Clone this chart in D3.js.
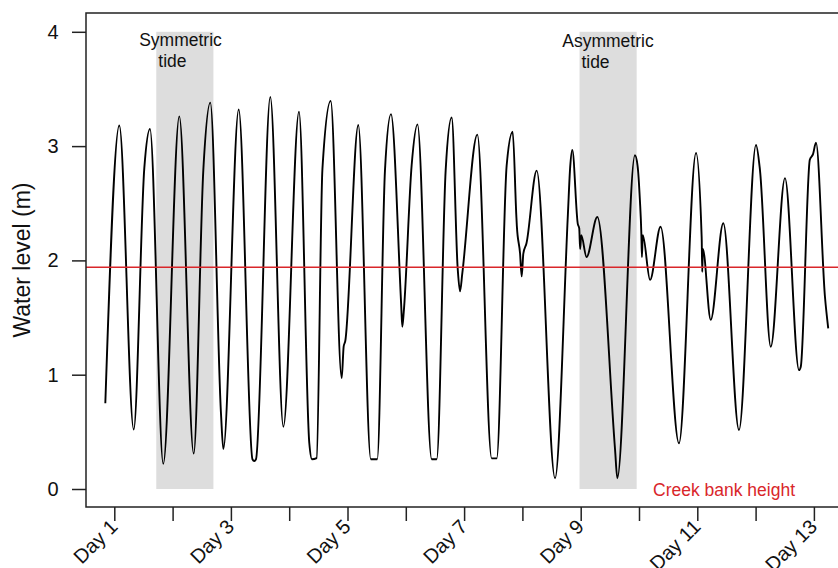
<!DOCTYPE html>
<html>
<head>
<meta charset="utf-8">
<script src="https://cdn.jsdelivr.net/npm/d3@7"></script>
<style>
  html, body { margin: 0; padding: 0; background: #fff; }
  svg { display: block; font-family: "Liberation Sans", Arial, sans-serif; }
</style>
</head>
<body>
<svg id="chart" width="838" height="568"></svg>
<script>
// ---- data ----
const dayTicks = [1,2,3,4,5,6,7,8,9,10,11,12,13];
const levelTicks = [0,1,2,3,4];
const creekBank = 1.94;
const shaded = [ {from: 1.72, to: 2.70, label1: "Symmetric", label2: "tide"},
                 {from: 8.98, to: 9.96, label1: "Asymmetric", label2: "tide"} ];

const day = [
  0.846, 1.086, 1.333, 1.515, 1.612, 1.84, 2.115, 2.362, 2.527, 2.647,
  2.83, 2.87, 3.134, 3.37, 3.40, 3.43, 3.676, 3.90, 4.168, 4.345,
  4.39, 4.47, 4.57, 4.712, 4.90, 4.935, 4.96, 5.185, 5.40, 5.51,
  5.643, 5.746, 5.92, 5.94, 5.965, 6.10, 6.20, 6.444, 6.53, 6.684,
  6.787, 6.89, 6.93, 6.97, 7.227, 7.473, 7.559, 7.73, 7.833, 7.895,
  7.905, 7.96, 7.988, 8.016, 8.07, 8.245, 8.56, 8.78, 8.82, 8.856,
  8.95, 8.975, 8.99, 9.01, 9.10, 9.285, 9.59, 9.628, 9.93, 9.975,
  10.015, 10.04, 10.05, 10.065, 10.19, 10.37, 10.686, 10.978, 11.075, 11.085,
  11.095, 11.23, 11.446, 11.715, 12.007, 12.075, 12.26, 12.504, 12.745, 12.775,
  12.93, 12.985, 13.036, 13.19, 13.246
];
const level = [
  0.75, 3.18, 0.52, 2.81, 3.15, 0.22, 3.26, 0.31, 2.79, 3.38,
  0.66, 0.35, 3.32, 0.26, 0.245, 0.26, 3.43, 0.545, 3.30, 0.40,
  0.26, 0.27, 2.80, 3.395, 0.97, 1.25, 1.29, 3.185, 0.26, 0.26,
  2.79, 3.28, 1.62, 1.42, 1.55, 2.83, 3.19, 0.26, 0.26, 2.79,
  3.25, 1.93, 1.73, 1.89, 3.10, 0.268, 0.268, 2.83, 3.126, 2.40,
  2.30, 2.06, 1.86, 2.06, 2.15, 2.785, 0.094, 2.40, 2.82, 2.966,
  2.32, 2.28, 2.10, 2.22, 2.03, 2.38, 0.34, 0.094, 2.92, 2.83,
  2.53, 2.24, 2.03, 2.22, 1.83, 2.295, 0.40, 2.94, 2.20, 1.90,
  2.10, 1.48, 2.325, 0.516, 3.01, 2.79, 1.245, 2.72, 1.04, 1.07,
  2.88, 2.93, 3.03, 1.68, 1.405
];

// ---- layout ----
const svg = d3.select("#chart");
const W = 838, H = 568;
const plot = {left: 86, top: 13, right: 860, bottom: 507};

svg.append("rect").attr("width", W).attr("height", H).attr("fill", "#fff");

const x = d3.scaleLinear().domain([1, 13]).range([114.3, 813.9]);
const y = d3.scaleLinear().domain([0, 4]).range([489, 31.8]);

svg.append("defs").append("clipPath").attr("id", "clip")
  .append("rect").attr("x", plot.left).attr("y", plot.top)
  .attr("width", plot.right - plot.left).attr("height", plot.bottom - plot.top);

const g = svg.append("g").attr("clip-path", "url(#clip)");

// shaded periods
g.selectAll("rect.shade").data(shaded).join("rect")
  .attr("class", "shade")
  .attr("x", d => x(d.from)).attr("width", d => x(d.to) - x(d.from))
  .attr("y", y(4)).attr("height", y(0) - y(4))
  .attr("fill", "#dddddd");

// water level line
const pts = day.map((d, i) => ({day: d, v: level[i]}));
const line = d3.line().x(d => x(d.day)).y(d => y(d.v)).curve(d3.curveMonotoneX);
g.append("path").datum(pts).attr("d", line)
  .attr("fill", "none").attr("stroke", "#000").attr("stroke-width", 1.9)
  .attr("stroke-linejoin", "round");

// creek bank height
g.append("line")
  .attr("x1", plot.left).attr("x2", plot.right)
  .attr("y1", y(creekBank)).attr("y2", y(creekBank))
  .attr("stroke", "#d9262a").attr("stroke-width", 1.6);

// annotations
const ann = svg.append("g").attr("font-size", 17.5).attr("fill", "#111").attr("text-anchor", "middle");
ann.append("text").attr("x", x(2.135)).attr("y", 46).text(shaded[0].label1);
ann.append("text").attr("x", x(1.998)).attr("y", 67).text(shaded[0].label2);
ann.append("text").attr("x", x(9.468)).attr("y", 47).text(shaded[1].label1);
ann.append("text").attr("x", x(9.254)).attr("y", 68).text(shaded[1].label2);

svg.append("text").attr("x", 653).attr("y", 495.5)
  .attr("font-size", 17.5).attr("fill", "#d9262a").text("Creek bank height");

// box
svg.append("rect")
  .attr("x", plot.left).attr("y", plot.top)
  .attr("width", plot.right - plot.left).attr("height", plot.bottom - plot.top)
  .attr("fill", "none").attr("stroke", "#222").attr("stroke-width", 1.5);

// y axis
const yAxis = svg.append("g").attr("transform", `translate(${plot.left},0)`)
  .call(d3.axisLeft(y).tickValues(levelTicks).tickSize(14).tickPadding(13.5).tickFormat(d3.format("d")));
yAxis.select(".domain").remove();
yAxis.selectAll(".tick line").attr("stroke", "#222").attr("stroke-width", 1.5);
yAxis.selectAll(".tick text").attr("font-size", 20).attr("fill", "#111")
  .attr("font-family", "Liberation Sans, Arial, sans-serif");

// x axis
const xAxis = svg.append("g").attr("transform", `translate(0,${plot.bottom})`)
  .call(d3.axisBottom(x).tickValues(dayTicks).tickSize(14)
    .tickFormat(d => d % 2 === 1 ? "Day " + d : ""));
xAxis.select(".domain").remove();
xAxis.selectAll(".tick line").attr("stroke", "#222").attr("stroke-width", 1.5);
xAxis.selectAll(".tick text")
  .attr("font-size", 20).attr("fill", "#111")
  .attr("font-family", "Liberation Sans, Arial, sans-serif")
  .attr("text-anchor", "end")
  .attr("x", 0).attr("y", 0).attr("dy", "0.35em")
  .attr("transform", "translate(-1,16) rotate(-45)");

// y title
svg.append("text")
  .attr("transform", `translate(30,${(plot.top + plot.bottom) / 2}) rotate(-90)`)
  .attr("text-anchor", "middle").attr("font-size", 23).attr("fill", "#111")
  .text("Water level (m)");
</script>
</body>
</html>
